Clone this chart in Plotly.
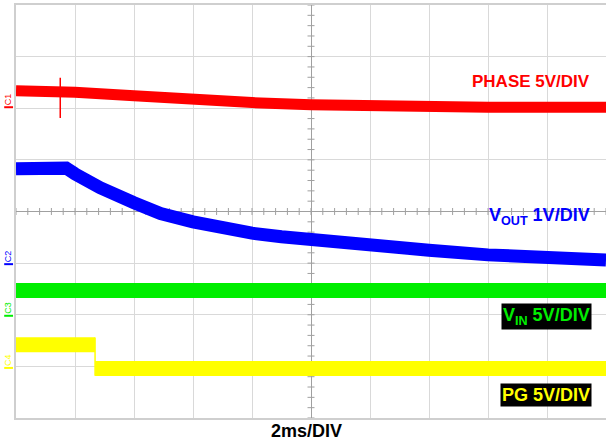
import numpy as np
import plotly.graph_objects as go

# scope capture, time in ms (2 ms/div), trace position in divisions
phase_t = [-10, -8.5, -8, -6, -4, -2, 0, 2, 4, 6, 8, 10]
phase_y = [2.34, 2.34, 2.31, 2.24, 2.15, 2.11, 2.07, 2.04, 2.03, 2.02, 2.02, 2.02]
spike_t = [-8.5, -8.5]
spike_y = [2.59, 1.81]

vout_t = [-10, -8.3, -8, -7.15, -6, -5.1, -4, -3, -2, -1, 0, 2, 4, 6, 8, 10]
vout_y = [0.83, 0.84, 0.73, 0.46, 0.17, -0.04, -0.20, -0.32, -0.42, -0.49, -0.55, -0.67, -0.75, -0.84, -0.90, -0.94]

vin_t = [-10, 10]
vin_y = [-1.53, -1.53]

pg_t = [-10, -7.32, None, -7.32, 10]
pg_y = [-2.58, -2.58, None, -3.04, -3.04]
pg_edge_t = [-7.32, -7.32]
pg_edge_y = [-2.44, -3.18]

# channel ground markers
markers = ['C1', 'C2', 'C3', 'C4']
marker_y = [2.02, -1.02, -2.02, -3.03]
colors = ['#ff0000', '#0000ff', '#00ee00', '#ffff00']

fig = go.Figure()

# centre graticule ticks
fig.add_trace(go.Scatter(
    x=np.arange(-10, 10.01, 0.4), y=np.zeros(51), mode='markers',
    marker=dict(symbol='line-ns', size=5, line=dict(color='#a0a0a0', width=1)),
    hoverinfo='skip'))
fig.add_trace(go.Scatter(
    x=np.zeros(41), y=np.arange(-4, 4.01, 0.2), mode='markers',
    marker=dict(symbol='line-ew', size=5, line=dict(color='#a0a0a0', width=1)),
    hoverinfo='skip'))

# PHASE
fig.add_trace(go.Scatter(x=phase_t, y=phase_y, mode='lines',
                         line=dict(color='#ff0000', width=11)))
fig.add_trace(go.Scatter(x=spike_t, y=spike_y, mode='lines',
                         line=dict(color='#ff0000', width=1.5)))
# VOUT
fig.add_trace(go.Scatter(x=vout_t, y=vout_y, mode='lines',
                         line=dict(color='#0000ff', width=13)))
# VIN
fig.add_trace(go.Scatter(x=vin_t, y=vin_y, mode='lines',
                         line=dict(color='#00ee00', width=15)))
# PG
fig.add_trace(go.Scatter(x=pg_t, y=pg_y, mode='lines',
                         line=dict(color='#ffff00', width=15)))
fig.add_trace(go.Scatter(x=pg_edge_t, y=pg_edge_y, mode='lines',
                         line=dict(color='#ffff00', width=1.5)))

font = 'Liberation Sans, Arial, sans-serif'
annotations = [
    dict(text='<b>PHASE 5V/DIV</b>', x=9.52, y=2.51, xanchor='right', yanchor='middle',
         font=dict(color='#ff0000', size=17, family=font), showarrow=False),
    dict(text="<b>V<sub>OUT</sub> 1V/DIV</b>", x=9.52, y=-0.1, xanchor='right', yanchor='middle',
         font=dict(color='#0000ff', size=18, family=font), showarrow=False),
    dict(text="<b>V<sub>IN</sub> 5V/DIV</b>", x=9.52, y=-2.03, xanchor='right', yanchor='middle',
         font=dict(color='#00ee00', size=18, family=font), showarrow=False,
         bgcolor='#000000', borderpad=1),
    dict(text='<b>PG 5V/DIV</b>', x=9.52, y=-3.56, xanchor='right', yanchor='middle',
         font=dict(color='#ffff00', size=18, family=font), showarrow=False,
         bgcolor='#000000', borderpad=1),
    dict(text='<b>2ms/DIV</b>', xref='paper', yref='paper', x=0.492, y=-0.031,
         xanchor='center', yanchor='middle', font=dict(color='#000000', size=18, family=font),
         showarrow=False),
]

shapes = []
for name, y, c in zip(markers, marker_y, colors):
    annotations.append(dict(text=name, xref='paper', yref='y', x=-0.0136, y=y,
                            xanchor='center', yanchor='bottom', textangle=-90,
                            font=dict(color=c, size=9, family=font), showarrow=False))
    shapes.append(dict(type='line', xref='paper', yref='y', x0=-0.02, x1=-0.005,
                       y0=y, y1=y, line=dict(color=c, width=2)))

fig.update_layout(
    width=606, height=442,
    margin=dict(l=16, r=0, t=5, b=24, autoexpand=False),
    paper_bgcolor='white', plot_bgcolor='white',
    showlegend=False,
    hovermode=False,
    annotations=annotations,
    shapes=shapes,
)
fig.update_xaxes(range=[-10, 10], dtick=2, showgrid=True, gridcolor='#d9d9d9', gridwidth=1,
                 zeroline=True, zerolinecolor='#a0a0a0', zerolinewidth=1,
                 showticklabels=False, ticks='', showline=True, linecolor='#cfcfcf',
                 linewidth=2, mirror=True)
fig.update_yaxes(range=[-4, 4], dtick=1, showgrid=True, gridcolor='#d9d9d9', gridwidth=1,
                 zeroline=True, zerolinecolor='#a0a0a0', zerolinewidth=1,
                 showticklabels=False, ticks='', showline=True, linecolor='#cfcfcf',
                 linewidth=2, mirror=True)

# page has a default 8px body margin; drop it so the figure fills the window
fig.write_html('out.html', config={'displayModeBar': False},
               post_script="document.body.style.margin='0';")
